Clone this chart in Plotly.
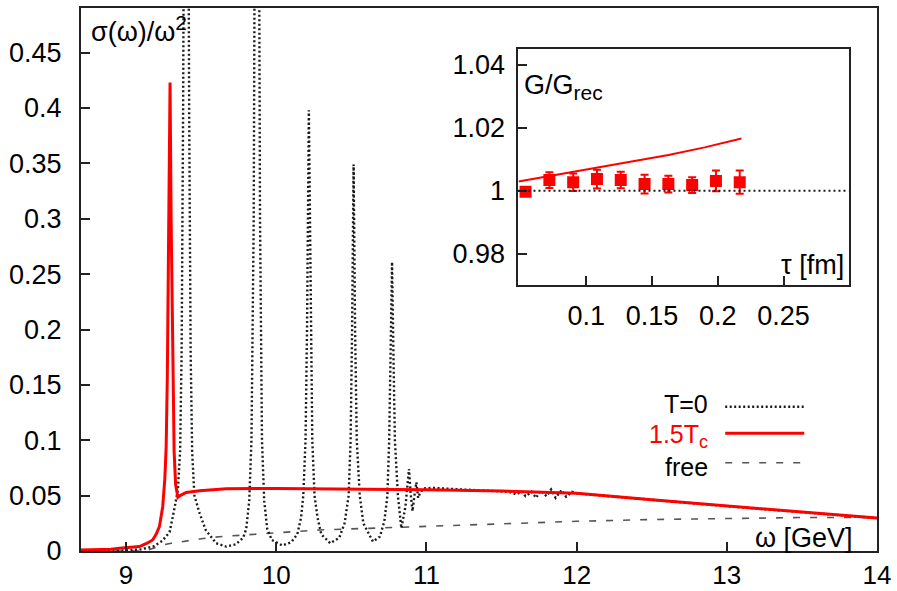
import plotly.graph_objects as go

# ---------------- main panel data ----------------
omega_T0 = [8.70, 8.90, 9.00, 9.10, 9.18, 9.24, 9.29, 9.32, 9.345, 9.36, 9.37, 9.38, 9.39, 9.40,
            9.41, 9.42, 9.43, 9.44, 9.455, 9.49, 9.53, 9.60, 9.667, 9.73, 9.78, 9.80, 9.82, 9.835,
            9.85, 9.86, 9.871, 9.882, 9.892, 9.905, 9.92, 9.94, 9.97, 10.04, 10.10, 10.14, 10.165,
            10.18, 10.195, 10.205, 10.217, 10.229, 10.24, 10.255, 10.275, 10.30, 10.36, 10.42,
            10.455, 10.482, 10.495, 10.505, 10.515, 10.525, 10.536, 10.556, 10.58, 10.644, 10.69,
            10.72, 10.74, 10.752, 10.762, 10.771, 10.78, 10.79, 10.81, 10.833, 10.86, 10.875,
            10.884, 10.895, 10.907, 10.92, 10.933, 10.945, 10.956, 10.98, 11.05, 11.2, 11.4, 11.55,
            11.6, 11.63, 11.66, 11.70, 11.73, 11.76, 11.80, 11.83, 11.86, 11.90, 11.93, 11.97,
            12.0, 12.5, 13.0, 13.5, 14.0]
sigma_T0 = [0.0, 0.0002, 0.0005, 0.0015, 0.004, 0.009, 0.017, 0.037, 0.055, 0.09, 0.18, 0.4, 0.8, 1.1,
            0.8, 0.4, 0.18, 0.09, 0.05, 0.034, 0.019, 0.007, 0.004, 0.006, 0.012, 0.02, 0.045, 0.1,
            0.3, 0.7, 1.0, 0.7, 0.3, 0.1, 0.045, 0.02, 0.01, 0.005, 0.008, 0.015, 0.03,
            0.05, 0.1, 0.2, 0.398, 0.2, 0.1, 0.05, 0.03, 0.015, 0.007, 0.012,
            0.025, 0.05, 0.1, 0.2, 0.349, 0.2, 0.1, 0.05, 0.025, 0.0085, 0.013,
            0.027, 0.05, 0.1, 0.18, 0.261, 0.18, 0.1, 0.05, 0.0205, 0.04, 0.062,
            0.074, 0.052, 0.036, 0.05, 0.062, 0.048, 0.052, 0.0565, 0.057, 0.0558, 0.0547, 0.0535,
            0.051, 0.054, 0.0495, 0.0535, 0.048, 0.0545, 0.0495, 0.0555, 0.048, 0.055, 0.049, 0.0535,
            0.052, 0.046, 0.0405, 0.035, 0.0297]

omega_hot = [8.70, 8.90, 8.956, 9.05, 9.089, 9.14, 9.177, 9.20, 9.222, 9.244, 9.258, 9.267, 9.275,
             9.283, 9.293, 9.30, 9.31, 9.32, 9.33, 9.345, 9.36, 9.40, 9.49, 9.58, 9.667, 10.0, 10.5,
             11.0, 11.5, 12.0, 12.5, 13.0, 13.5, 14.0]
sigma_hot = [0.0008, 0.0015, 0.0024, 0.0035, 0.004, 0.007, 0.010, 0.015, 0.022, 0.040, 0.065, 0.094, 0.16,
             0.28, 0.423, 0.30, 0.17, 0.09, 0.06, 0.0485, 0.050, 0.0528, 0.0545, 0.0556, 0.0562, 0.0565, 0.0560,
             0.0552, 0.0541, 0.0521, 0.0462, 0.0405, 0.0350, 0.0297]

omega_free = [8.70, 9.10, 9.15, 9.20, 9.25, 9.30, 9.40, 9.50, 9.62, 9.80, 9.955, 10.29, 10.62,
              11.0, 11.4, 12.0, 12.5, 13.0, 13.5, 14.0]
sigma_free = [0.0, 0.0, 0.001, 0.0035, 0.0055, 0.007, 0.0093, 0.011, 0.0129, 0.0148, 0.016, 0.019, 0.0205,
              0.0225, 0.0244, 0.0268, 0.0284, 0.0295, 0.0302, 0.0303]

x_ticks_main = [9, 10, 11, 12, 13, 14]
y_ticks_main = [0, 0.05, 0.1, 0.15, 0.2, 0.25, 0.3, 0.35, 0.4, 0.45]

# ---------------- inset data ----------------
tau_pts = [0.0538, 0.0719, 0.0900, 0.1081, 0.1262, 0.1443, 0.1624, 0.1805, 0.1986, 0.2167]
G_ratio = [0.9997, 1.0034, 1.0027, 1.0037, 1.0034, 1.0021, 1.0021, 1.0018, 1.0031, 1.0027]
G_err = [0.0008, 0.0025, 0.0028, 0.0030, 0.0026, 0.0030, 0.0027, 0.0025, 0.0033, 0.0037]

tau_fit = [0.0484, 0.08, 0.108, 0.135, 0.1625, 0.19, 0.218]
G_fit = [1.0029, 1.0052, 1.0072, 1.0093, 1.0114, 1.0138, 1.0166]

x_ticks_inset = [0.1, 0.15, 0.2, 0.25]
y_ticks_inset = [0.98, 1.0, 1.02, 1.04]

FONT = "Liberation Sans"
FS = 27
FS_LEG = 25
AX = "#222222"
RED = "#ff0000"
TXT = "#000000"

fig = go.Figure()

fig.add_trace(go.Scatter(x=omega_free, y=sigma_free, mode="lines",
                         line=dict(color="#555555", width=1.6, dash="7px,10px"),
                         xaxis="x", yaxis="y", showlegend=False, hoverinfo="skip"))
fig.add_trace(go.Scatter(x=omega_T0, y=sigma_T0, mode="lines",
                         line=dict(color="#1a1a1a", width=2.4, dash="2px,2.5px"),
                         xaxis="x", yaxis="y", showlegend=False, hoverinfo="skip"))
fig.add_trace(go.Scatter(x=omega_hot, y=sigma_hot, mode="lines",
                         line=dict(color=RED, width=3),
                         xaxis="x", yaxis="y", showlegend=False, hoverinfo="skip"))

fig.add_trace(go.Scatter(x=tau_fit, y=G_fit, mode="lines",
                         line=dict(color=RED, width=2),
                         xaxis="x2", yaxis="y2", showlegend=False, hoverinfo="skip"))
fig.add_trace(go.Scatter(x=tau_pts, y=G_ratio, mode="markers",
                         marker=dict(symbol="square", size=12, color=RED),
                         error_y=dict(type="data", array=G_err, color=RED, thickness=2, width=4),
                         xaxis="x2", yaxis="y2", showlegend=False, hoverinfo="skip"))

axis_common = dict(showline=True, linecolor=AX, linewidth=2, mirror=True,
                   ticks="inside", ticklen=9, tickwidth=2, tickcolor=AX,
                   showgrid=False, zeroline=False, automargin=False)

def tf(size=FS):
    return dict(family=FONT, size=size, color=TXT)

fig.update_layout(
    width=897, height=591,
    margin=dict(l=81, r=20, t=8, b=40),
    paper_bgcolor="white", plot_bgcolor="white",
    showlegend=False,
    xaxis=dict(range=[8.7, 14], tickvals=x_ticks_main, domain=[0, 1], anchor="y",
               ticklabelstandoff=0, tickfont=tf(26), **axis_common),
    yaxis=dict(range=[0, 0.4903], tickvals=y_ticks_main, domain=[0, 1], anchor="x",
               ticklabelstandoff=12, tickfont=tf(), **axis_common),
    xaxis2=dict(range=[0.0484, 0.2995], tickvals=x_ticks_inset, domain=[0.5496, 0.9643],
                anchor="y2", ticklabelstandoff=6, tickfont=tf(), **axis_common),
    yaxis2=dict(range=[0.97, 1.045], tickvals=y_ticks_inset, domain=[0.4899, 0.9239],
                anchor="x2", ticklabelstandoff=6, tickfont=tf(), **axis_common),
)

# reference line at 1 in the inset
fig.add_shape(type="line", xref="x2 domain", yref="y2", x0=0, x1=1, y0=1, y1=1,
              line=dict(color="#1a1a1a", width=2, dash="2px,3px"))

ann_font = tf()
SUBSTYLE = 'style="font-size:21px"'
SUBSTYLE_C = 'style="font-size:18px"'
fig.add_annotation(text=f"σ(ω)/ω<sup><span {SUBSTYLE}>2</span></sup>", xref="paper", yref="paper",
                   x=0.011, y=0.962, xanchor="left", yanchor="middle", showarrow=False,
                   font=ann_font, borderpad=0)
fig.add_annotation(text="ω [GeV]", xref="paper", yref="paper", x=0.9715, y=0.024,
                   xanchor="right", yanchor="middle", showarrow=False, font=ann_font, borderpad=0)
fig.add_annotation(text=f"G/G<sub><span {SUBSTYLE}>rec</span></sub>", xref="paper", yref="paper",
                   x=0.5555, y=0.855, xanchor="left", yanchor="middle", showarrow=False,
                   font=ann_font, borderpad=0)
fig.add_annotation(text="τ [fm]", xref="paper", yref="paper", x=0.8785, y=0.527,
                   xanchor="left", yanchor="middle", showarrow=False, font=ann_font, borderpad=0)

# legend (gnuplot style: text right-aligned, sample to the right)
legend_items = [("T=0", TXT, 0.2710, dict(color="#1a1a1a", width=2.4, dash="2px,2.5px")),
                (f"1.5T<sub><span {SUBSTYLE_C}>c</span></sub>", RED, 0.2120, dict(color=RED, width=3)),
                ("free", TXT, 0.1540, dict(color="#555555", width=1.6, dash="7px,10px"))]
line_y = [0.2657, 0.2168, 0.1626]
for (label, col, ty, lstyle), ly in zip(legend_items, line_y):
    fig.add_annotation(text=label, xref="paper", yref="paper", x=0.7893, y=ty,
                       xanchor="right", yanchor="middle", showarrow=False, borderpad=0,
                       font=dict(family=FONT, size=FS_LEG, color=col))
    fig.add_shape(type="line", xref="paper", yref="paper", x0=0.8093, x1=0.9086, y0=ly, y1=ly,
                  line=lstyle)

fig.write_html("out.html")
